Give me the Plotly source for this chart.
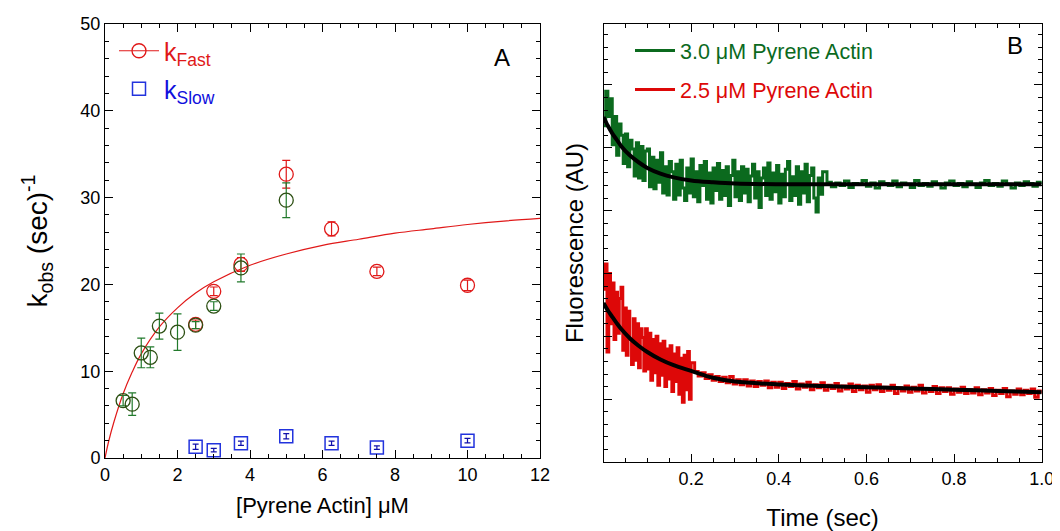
import numpy as np
import plotly.graph_objects as go

# ---- panel A: observed rates vs pyrene actin ----
fast_x = [2.5, 3.0, 3.75, 5.0, 6.25, 7.5, 10.0]
fast_y = [15.4, 19.2, 22.3, 32.7, 26.4, 21.5, 19.9]
fast_err = [0.5, 0.5, 0.8, 1.6, 0.8, 0.5, 0.6]

green_x = [0.5, 0.75, 1.0, 1.25, 1.5, 2.0, 2.5, 3.0, 3.75, 5.0]
green_y = [6.6, 6.2, 12.1, 11.6, 15.2, 14.5, 15.3, 17.5, 21.9, 29.7]
green_err = [0.6, 1.3, 1.7, 1.2, 1.5, 2.1, 0.4, 0.5, 1.6, 2.0]

slow_x = [2.5, 3.0, 3.75, 5.0, 6.25, 7.5, 10.0]
slow_y = [1.3, 0.9, 1.7, 2.5, 1.7, 1.2, 2.0]
slow_err = [0.3, 0.2, 0.25, 0.3, 0.25, 0.2, 0.25]

fit_x = [0, 0.1, 0.25, 0.5, 0.75, 1.0, 1.5, 2.0, 2.5, 3.0, 4.0, 5.0, 6.0, 7.0, 8.0, 9.0, 10.0, 11.0, 12.0]
fit_y = [0, 1.9, 4.2, 7.4, 9.9, 12.0, 15.1, 17.3, 19.0, 20.3, 22.2, 23.5, 24.5, 25.2, 25.9, 26.4, 26.9, 27.3, 27.6]

# ---- panel B: fluorescence transients ----
# 3.0 uM, fast sampling 0-0.5 s (every 5 ms), then every 10 ms
g_fast = [5.35, 5.90, 5.50, 5.78, 5.05, 5.50, 4.88, 5.38, 5.20, 4.75,
          5.22, 4.70, 5.12, 4.98, 4.55, 5.08, 4.52, 5.02, 4.48, 4.95,
          4.98, 4.38, 4.85, 4.35, 4.80, 4.45, 4.92, 4.28, 4.70, 4.25,
          4.78, 4.62, 4.18, 4.74, 4.25, 4.80, 4.36, 4.16, 4.68, 4.28,
          4.82, 4.22, 4.62, 4.14, 4.72, 4.40, 4.78, 4.18, 4.60, 4.12,
          4.68, 4.32, 4.75, 4.18, 4.64, 4.24, 4.70, 4.08, 4.56, 4.80,
          4.22, 4.62, 4.16, 4.70, 4.28, 4.66, 4.14, 4.55, 4.74, 4.20,
          4.62, 4.05, 4.52, 4.68, 4.24, 4.76, 4.18, 4.60, 4.30, 4.72,
          4.12, 4.58, 4.22, 4.66, 4.78, 4.16, 4.54, 4.24, 4.70, 4.10,
          4.62, 4.28, 4.74, 4.14, 4.56, 4.68, 4.20, 3.98, 4.52, 4.26,
          4.62]
g_slow = [4.45, 4.38, 4.44, 4.40, 4.47, 4.37, 4.43, 4.42, 4.48, 4.39,
          4.44, 4.36, 4.46, 4.43, 4.40, 4.47, 4.38, 4.44, 4.42, 4.37,
          4.48, 4.40, 4.43, 4.39, 4.46, 4.42, 4.36, 4.44, 4.47, 4.40,
          4.43, 4.38, 4.46, 4.42, 4.37, 4.44, 4.48, 4.40, 4.43, 4.39,
          4.47, 4.42, 4.36, 4.44, 4.40, 4.46, 4.43, 4.39, 4.45, 4.42]

# 2.5 uM, fast sampling 0-0.2 s (every 4 ms), then every 8 ms
r_fast = [2.75, 3.15, 1.75, 3.00, 2.20, 2.85, 1.95, 2.70, 2.05, 2.60,
          2.78, 1.78, 2.45, 1.70, 2.40, 1.95, 1.55, 2.28, 1.62, 2.20,
          1.50, 2.12, 1.98, 1.45, 2.12, 1.48, 2.05, 1.30, 1.95, 1.42,
          2.00, 1.22, 1.88, 1.38, 1.92, 1.20, 1.80, 1.32, 1.85, 1.12,
          1.72, 1.28, 1.82, 1.08, 1.65, 0.95, 1.70, 1.15, 1.76, 1.00,
          1.58]
r_slow = [1.44, 1.37, 1.42, 1.33, 1.39, 1.30, 1.36, 1.28, 1.35, 1.26,
          1.36, 1.24, 1.31, 1.23, 1.31, 1.21, 1.29, 1.20, 1.28, 1.22,
          1.29, 1.18, 1.27, 1.19, 1.27, 1.17, 1.25, 1.20, 1.28, 1.16,
          1.24, 1.19, 1.27, 1.15, 1.23, 1.18, 1.26, 1.14, 1.22, 1.17,
          1.25, 1.13, 1.21, 1.16, 1.24, 1.12, 1.22, 1.15, 1.21, 1.11,
          1.22, 1.15, 1.23, 1.12, 1.19, 1.14, 1.22, 1.09, 1.18, 1.13,
          1.21, 1.11, 1.19, 1.13, 1.22, 1.10, 1.17, 1.12, 1.20, 1.09,
          1.18, 1.12, 1.18, 1.08, 1.16, 1.11, 1.19, 1.09, 1.15, 1.10,
          1.18, 1.07, 1.15, 1.10, 1.17, 1.06, 1.14, 1.09, 1.17, 1.04,
          1.13, 1.08, 1.16, 1.07, 1.14, 1.09, 1.16, 1.03, 1.13, 1.09]

g_t = np.concatenate([np.arange(len(g_fast)) * 0.005, 0.51 + np.arange(len(g_slow)) * 0.01])
g_y = g_fast + g_slow
r_t = np.concatenate([np.arange(len(r_fast)) * 0.004, 0.208 + np.arange(len(r_slow)) * 0.008])
r_y = r_fast + r_slow

gfit_t = [0, 0.01, 0.02, 0.03, 0.04, 0.06, 0.08, 0.10, 0.13, 0.16, 0.20, 0.25, 0.30, 0.40, 0.50, 0.70, 1.00]
gfit_y = [5.49, 5.35, 5.23, 5.13, 5.03, 4.88, 4.77, 4.68, 4.59, 4.53, 4.48, 4.45, 4.43, 4.42, 4.42, 4.42, 4.42]
rfit_t = [0, 0.01, 0.02, 0.03, 0.04, 0.06, 0.08, 0.10, 0.13, 0.16, 0.20, 0.25, 0.30, 0.40, 0.50, 0.60, 0.70, 0.80, 0.90, 1.00]
rfit_y = [2.53, 2.41, 2.31, 2.21, 2.12, 1.97, 1.85, 1.75, 1.63, 1.54, 1.45, 1.34, 1.28, 1.235, 1.21, 1.19, 1.17, 1.15, 1.13, 1.11]

time_ticks = [0.2, 0.4, 0.6, 0.8, 1.0]

RED = '#e01818'
GREEN = '#0b6a1e'
TRACE_RED = '#dd0808'
BLUE = '#2233dd'
FONT = 'Liberation Sans, Arial, sans-serif'

# the page body adds an 8px offset, so positions below are screen pixels minus 8
W, H, OFF = 1060, 531, 8


def px(x):
    return (x - OFF) / W


def py(y):
    return 1 - (y - OFF) / H


fig = go.Figure()

# panel A
fig.add_trace(go.Scatter(x=fit_x, y=fit_y, mode='lines', line=dict(color=RED, width=1.2, shape='spline'),
                         showlegend=False, xaxis='x', yaxis='y'))
fig.add_trace(go.Scatter(x=fast_x, y=fast_y, mode='markers',
                         marker=dict(symbol='circle-open', size=14, color=RED, line=dict(width=1.3)),
                         error_y=dict(type='data', array=fast_err, color=RED, thickness=1.2, width=4),
                         showlegend=False, xaxis='x', yaxis='y'))
fig.add_trace(go.Scatter(x=green_x, y=green_y, mode='markers',
                         marker=dict(symbol='circle-open', size=14, color='#2c4f12', line=dict(width=1.3)),
                         error_y=dict(type='data', array=green_err, color='#227a2c', thickness=1.2, width=4),
                         showlegend=False, xaxis='x', yaxis='y'))
fig.add_trace(go.Scatter(x=slow_x, y=slow_y, mode='markers', name='k<sub>Slow</sub>',
                         marker=dict(symbol='square-open', size=13, color=BLUE, line=dict(width=1.5)),
                         error_y=dict(type='data', array=slow_err, color='#1010aa', thickness=1.2, width=3),
                         legend='legend2', xaxis='x', yaxis='y'))
# legend-only entry for k_Fast (line + circle)
fig.add_trace(go.Scatter(x=[None], y=[None], mode='lines+markers', name='k<sub>Fast</sub>',
                         line=dict(color=RED, width=1.2),
                         marker=dict(symbol='circle-open', size=14, color=RED, line=dict(width=1.3)),
                         legend='legend', xaxis='x', yaxis='y'))

# panel B
fig.add_trace(go.Scatter(x=g_t, y=g_y, mode='lines', name='3.0 μM Pyrene Actin',
                         line=dict(color=GREEN, width=3, shape='hv'), legend='legend3', xaxis='x2', yaxis='y2'))
fig.add_trace(go.Scatter(x=r_t, y=r_y, mode='lines', name='2.5 μM Pyrene Actin',
                         line=dict(color=TRACE_RED, width=3, shape='hv'), legend='legend4', xaxis='x2', yaxis='y2'))
fig.add_trace(go.Scatter(x=gfit_t, y=gfit_y, mode='lines', line=dict(color='black', width=4, shape='spline'),
                         showlegend=False, xaxis='x2', yaxis='y2'))
fig.add_trace(go.Scatter(x=rfit_t, y=rfit_y, mode='lines', line=dict(color='black', width=4, shape='spline'),
                         showlegend=False, xaxis='x2', yaxis='y2'))

axis_common = dict(showline=True, linecolor='black', linewidth=1, mirror='ticks', ticks='inside',
                   tickcolor='black', showgrid=False, zeroline=False, automargin=False,
                   tickfont=dict(family=FONT, size=18, color='black'))

legend_common = dict(xanchor='left', yanchor='top', bgcolor='rgba(0,0,0,0)', itemwidth=40)

fig.update_layout(
    width=W, height=H,
    margin=dict(l=0, r=0, t=0, b=0),
    paper_bgcolor='white', plot_bgcolor='white',
    font=dict(family=FONT, color='black'),
    xaxis=dict(axis_common, domain=[px(105), px(540)], range=[0, 12], dtick=2, ticklen=8,
               minor=dict(dtick=0.5, ticklen=4, ticks='inside', tickcolor='black'),
               title=dict(text='[Pyrene Actin] μM', font=dict(size=22), standoff=14)),
    yaxis=dict(axis_common, domain=[py(458), py(24)], range=[0, 50], dtick=10, ticklen=8,
               minor=dict(dtick=2, ticklen=4, ticks='inside', tickcolor='black'),
               title=dict(text='k<sub>obs</sub> (sec)<sup>-1</sup>', font=dict(size=28), standoff=24)),
    xaxis2=dict(axis_common, anchor='y2', domain=[px(603.5), px(1041.7)], range=[0, 1],
                tickmode='array', tickvals=time_ticks, ticktext=['%.1f' % v for v in time_ticks], ticklen=8,
                minor=dict(tickmode='linear', tick0=0, dtick=0.05, ticklen=4, ticks='inside', tickcolor='black'),
                title=dict(text='Time (sec)', font=dict(size=24), standoff=21)),
    yaxis2=dict(axis_common, anchor='x2', domain=[py(462), py(24)], range=[0, 6.97],
                dtick=1, ticklen=8, showticklabels=False,
                minor=dict(dtick=0.2, ticklen=4, ticks='inside', tickcolor='black'),
                title=dict(text='Fluorescence (AU)', font=dict(size=24), standoff=12)),
    legend=dict(legend_common, x=106 / W, y=1 - 20 / H,
                font=dict(size=25, color=RED, family=FONT)),
    legend2=dict(legend_common, x=106 / W, y=1 - 58 / H,
                 font=dict(size=25, color='#1010dd', family=FONT)),
    legend3=dict(legend_common, x=622 / W, y=1 - 22 / H,
                 font=dict(size=21.5, color=GREEN, family=FONT)),
    legend4=dict(legend_common, x=622 / W, y=1 - 61 / H,
                 font=dict(size=21.5, color=TRACE_RED, family=FONT)),
    annotations=[
        dict(text='A', x=px(502), y=py(58), xref='paper', yref='paper', xanchor='center',
             yanchor='middle', showarrow=False, font=dict(size=24, color='black')),
        dict(text='B', x=px(1015), y=py(46), xref='paper', yref='paper', xanchor='center',
             yanchor='middle', showarrow=False, font=dict(size=24, color='black')),
    ],
)

fig.write_html('out.html')
